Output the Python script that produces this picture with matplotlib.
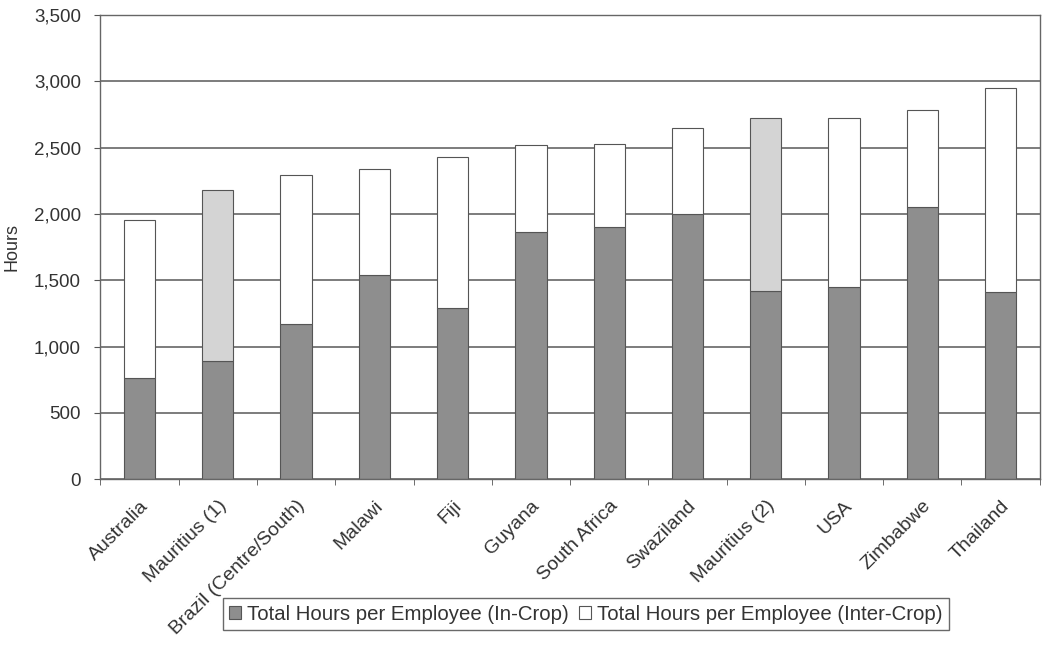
import matplotlib.pyplot as plt
import numpy as np

plt.rcParams['font.family'] = ['Liberation Sans', 'DejaVu Sans']

countries = ['Australia', 'Mauritius (1)', 'Brazil (Centre/South)', 'Malawi', 'Fiji',
             'Guyana', 'South Africa', 'Swaziland', 'Mauritius (2)', 'USA',
             'Zimbabwe', 'Thailand']

# hours per employee, in-crop and the total (in-crop + inter-crop)
in_crop = [760, 890, 1170, 1540, 1290, 1860, 1900, 2000, 1415, 1450, 2050, 1410]
total = [1950, 2180, 2290, 2340, 2430, 2520, 2530, 2650, 2720, 2720, 2780, 2950]
inter_crop = [t - i for t, i in zip(total, in_crop)]

# the two Mauritius surveys have their inter-crop part shaded
shaded = ['Mauritius (1)', 'Mauritius (2)']

dark = '#8e8e8e'
light = '#d4d4d4'
line = '#555555'
text_col = '#333333'


def main():
    fig = plt.figure(figsize=(10.46, 6.45), dpi=100)
    ax = fig.add_axes([0.096, 0.257, 0.898, 0.72])

    x = np.arange(len(countries))
    width = 0.4

    ax.yaxis.grid(True, color='#666666', linewidth=1.2)
    ax.set_axisbelow(True)

    ax.bar(x, in_crop, width, color=dark, edgecolor=line, linewidth=0.8,
           label='Total Hours per Employee (In-Crop)')
    upper_colors = [light if c in shaded else 'white' for c in countries]
    ax.bar(x, inter_crop, width, bottom=in_crop, color=upper_colors,
           edgecolor=line, linewidth=0.8,
           label='Total Hours per Employee (Inter-Crop)')

    ax.set_xlim(-0.5, len(countries) - 0.5)
    ax.set_ylim(0, 3500)
    ax.set_yticks(np.arange(0, 3501, 500))
    ax.set_yticklabels(['{:,}'.format(v) for v in range(0, 3501, 500)],
                       fontsize=13.5, color=text_col)
    ax.tick_params(axis='y', length=4, color=line, pad=10)

    ax.set_xticks(x)
    ax.set_xticklabels(countries, rotation=45, ha='right', rotation_mode='anchor',
                       fontsize=14, color=text_col)
    ax.tick_params(axis='x', which='major', length=0, pad=13)
    ax.set_xticks(np.arange(-0.5, len(countries)), minor=True)
    ax.tick_params(axis='x', which='minor', length=4, color=line)

    for s in ax.spines.values():
        s.set_color('#666666')
        s.set_linewidth(1.0)

    ax.set_ylabel('Hours', fontsize=13, color=text_col)
    ax.yaxis.set_label_coords(-0.085, 0.5)

    leg = fig.legend(loc='center', bbox_to_anchor=(0.56, 0.048), ncol=2,
                     fontsize=14.7, frameon=True, fancybox=False,
                     handlelength=0.6, handleheight=0.6, handletextpad=0.3,
                     columnspacing=0.5, borderpad=0.3)
    leg.get_frame().set_edgecolor('#444444')
    leg.get_frame().set_linewidth(1.0)
    for t in leg.get_texts():
        t.set_color(text_col)

    fig.savefig('out.png', dpi=100)


if __name__ == '__main__':
    main()
